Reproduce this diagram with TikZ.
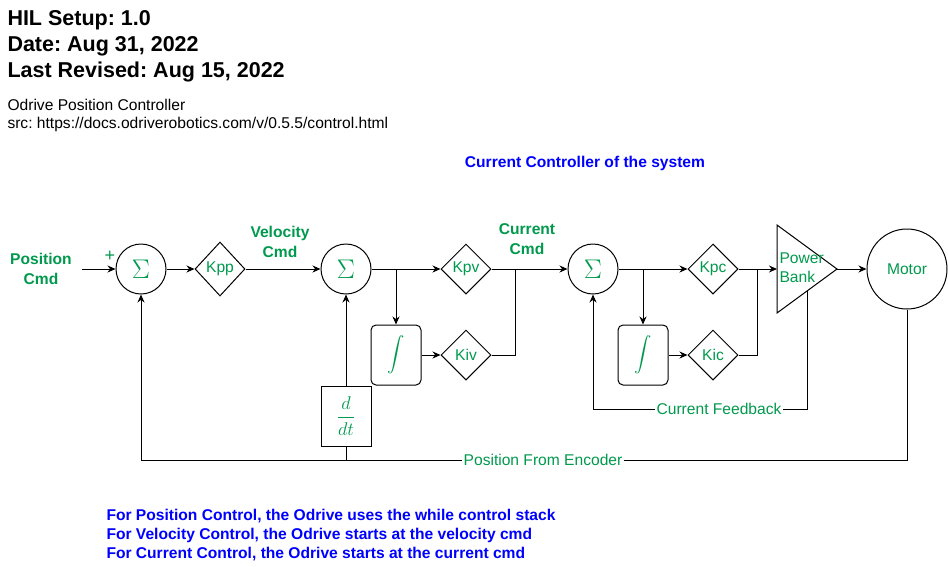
\RequirePackage{fix-cm}
\documentclass[tikz,border=0pt]{standalone}
\usepackage{amsmath}
\usepackage{fontspec}
\setmainfont{Liberation Sans}
\newfontfamily\sumfont{Latin Modern Roman}
\usetikzlibrary{shapes.geometric,arrows.meta}
\definecolor{ctrlgreen}{RGB}{0,153,77}
\definecolor{noteblue}{RGB}{0,0,255}
\frenchspacing

\begin{document}
\begin{tikzpicture}[
  x=1pt,y=-1pt,line width=1pt,
  >={Stealth[length=8pt,width=7pt]},
  every node/.style={font=\fontsize{15.6}{19}\selectfont},
  sumnode/.style={circle,draw,minimum size=50pt,inner sep=0pt,text=ctrlgreen,font=\sumfont\fontsize{27}{27}\selectfont},
  gain/.style={diamond,draw,minimum width=50pt,minimum height=50pt,inner sep=0pt,text=ctrlgreen},
  intbox/.style={draw,rounded corners=5pt,minimum width=50pt,minimum height=60pt,inner sep=0pt,text=ctrlgreen},
  diffbox/.style={draw,minimum width=50pt,minimum height=60pt,inner sep=0pt,text=ctrlgreen,font=\fontsize{18.5}{20}\selectfont},
  siglabel/.style={text=ctrlgreen,font=\fontsize{15.6}{20}\selectfont\bfseries,align=center},
  linelabel/.style={fill=white,text=ctrlgreen,inner sep=1pt},
  header/.style={anchor=base west,inner sep=0pt},
  note/.style={anchor=base west,inner sep=0pt,text=noteblue,font=\fontsize{15.6}{19}\selectfont\bfseries}
]
  \useasboundingbox (0,0) rectangle (948,566);

  \node[header,font=\fontsize{21.5}{26}\selectfont\bfseries] (hil) at (7,25) {HIL Setup: 1.0};
  \node[header,font=\fontsize{21.5}{26}\selectfont\bfseries] (date) at (7,51) {Date: Aug 31, 2022};
  \node[header,font=\fontsize{21.5}{26}\selectfont\bfseries] (rev) at (7,77) {Last Revised: Aug 15, 2022};
  \node[header] (ctl) at (7,110) {Odrive Position Controller};
  \node[header] (src) at (7,128) {src: https://docs.odriverobotics.com/v/0.5.5/control.html};
  \node[text=noteblue,font=\fontsize{15.6}{19}\selectfont\bfseries] (cctl) at (585,163) {Current Controller of the system};

  \node[siglabel] (pos) at (41,269) {Position\\Cmd};
  \node[siglabel] (vel) at (280,242) {Velocity\\Cmd};
  \node[siglabel] (cur) at (527,239) {Current\\Cmd};
  \node[text=ctrlgreen,font=\fontsize{18}{18}\selectfont] (plus) at (110,256) {+};

  \node[sumnode] (s1) at (141,269) {Σ};
  \node[gain,minimum height=54pt] (kpp) at (220,269) {Kpp};
  \node[sumnode] (s2) at (346,269) {Σ};
  \node[gain] (kpv) at (466,269) {Kpv};
  \node[intbox] (int1) at (396,355) {\fontsize{18}{18}\selectfont$\displaystyle\int$};
  \node[gain] (kiv) at (466,355) {Kiv};
  \node[diffbox] (ddt) at (346,416) {$\displaystyle\frac{d}{dt}$};
  \coordinate (j1) at (515,269);

  \node[sumnode] (s3) at (593,269) {Σ};
  \node[gain] (kpc) at (713,269) {Kpc};
  \node[intbox] (int2) at (643,355) {\fontsize{18}{18}\selectfont$\displaystyle\int$};
  \node[gain] (kic) at (713,355) {Kic};
  \coordinate (j2) at (757,269);

  \draw (777,225) -- (837,269) -- (777,313) -- cycle;
  \coordinate (pbin) at (777,269);
  \coordinate (pbout) at (837,269);
  \coordinate (pbfb) at (807,291);
  \node[anchor=west,inner sep=0pt,align=left,text=ctrlgreen] (pbtext) at (779,268) {Power\\Bank};
  \node[circle,draw,minimum size=80pt,inner sep=0pt,text=ctrlgreen] (motor) at (907,269) {Motor};

  \node[linelabel] (fbl) at (719,409) {Current Feedback};
  \node[linelabel] (encl) at (543,460) {Position From Encoder};

  \draw[->] ([xshift=6pt]pos.east) -- (s1);
  \draw[->] (s1) -- (kpp);
  \draw[->] (kpp) -- (s2);
  \draw[->] (s2) -- (kpv);
  \draw[->] (int1.north |- s2) -- (int1);
  \draw[->] (int1) -- (kiv);
  \draw (kiv) -| (j1);
  \draw[->] (kpv) -- (s3);
  \draw[->] (s3) -- (kpc);
  \draw[->] (int2.north |- s3) -- (int2);
  \draw[->] (int2) -- (kic);
  \draw (kic) -| (j2);
  \draw[->] (kpc) -- (pbin);
  \draw[->] (pbout) -- (motor);
  \draw[->] (motor) |- (encl) -| (s1);
  \draw (ddt) -- (ddt |- encl);
  \draw[->] (ddt) -- (s2);
  \draw[->] (pbfb) |- (fbl) -| (s3);

  \node[note] (n1) at (106,520) {For Position Control, the Odrive uses the while control stack};
  \node[note] (n2) at (106,539) {For Velocity Control, the Odrive starts at the velocity cmd};
  \node[note] (n3) at (106,558) {For Current Control, the Odrive starts at the current cmd};
\end{tikzpicture}
\end{document}
